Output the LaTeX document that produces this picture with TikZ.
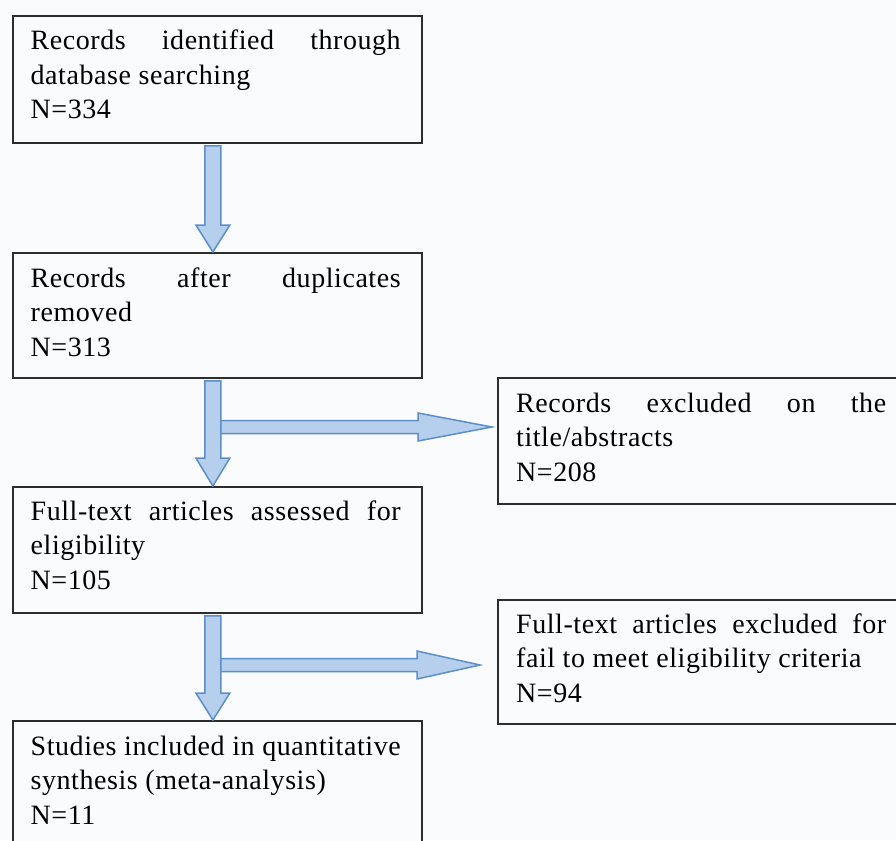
\documentclass[tikz,border=0pt]{standalone}
\usepackage{fontspec}
\setmainfont{Liberation Serif}[LetterSpace=2]
\usetikzlibrary{calc}
\definecolor{bgc}{RGB}{250,251,253}
\definecolor{arrfill}{RGB}{182,207,237}
\definecolor{arrline}{RGB}{92,142,202}
\definecolor{boxline}{RGB}{45,45,45}
\begin{document}
\begin{tikzpicture}[x=1pt,y=-1pt,
  boxnode/.style={draw=boxline,line width=1.8pt,fill=bgc,rectangle,inner sep=0pt,anchor=north west},
  txt/.style={anchor=base west,inner sep=0pt,text width=370pt,align=justify,
    font=\fontsize{28}{34.5}\selectfont},
  blockarrow/.style={fill=arrfill,draw=arrline,line width=1.5pt,line join=miter}]
\clip (0,0) rectangle (896,840);
\fill[bgc] (0,0) rectangle (896,840);
% boxes
\node[boxnode,minimum width=409pt,minimum height=127pt] (b1) at (12,15) {};
\node[boxnode,minimum width=409pt,minimum height=125pt] (b2) at (12,252) {};
\node[boxnode,minimum width=409pt,minimum height=126pt] (b3) at (12,486) {};
\node[boxnode,minimum width=409pt,minimum height=140pt] (b4) at (12,720) {};
\node[boxnode,minimum width=409pt,minimum height=126pt] (r1) at (497,377) {};
\node[boxnode,minimum width=409pt,minimum height=124pt] (r2) at (497,599) {};
% texts
\node[txt] (t1) at ($(b1.north west)+(18.5pt,-35pt)$) {Records identified through\linebreak database searching\\N=334};
\node[txt] (t2) at ($(b2.north west)+(18.5pt,-35pt)$) {Records after duplicates\linebreak removed\\N=313};
\node[txt] (t3) at ($(b3.north west)+(18.5pt,-34pt)$) {Full-text articles assessed for\linebreak eligibility\\N=105};
\node[txt] (t4) at ($(b4.north west)+(18.5pt,-35pt)$) {Studies included in quantitative\linebreak synthesis (meta-analysis)\\N=11};
\node[txt] (t5) at ($(r1.north west)+(19pt,-35pt)$) {Records excluded on the\linebreak title/abstracts\\N=208};
\node[txt] (t6) at ($(r2.north west)+(19pt,-34pt)$) {Full-text articles excluded for\linebreak fail to meet eligibility criteria\\N=94};
% horizontal arrows (drawn first)
\coordinate (h1) at (212,427);
\coordinate (e1) at (492,427);
\coordinate (h2) at (212,665);
\coordinate (e2) at (480,665);
\path[blockarrow] let \p1=(h1), \p2=(e1) in
  (\x1,\y1+6.5pt) -- (\x2-74pt,\y1+6.5pt) -- (\x2-74pt,\y1+14pt) -- (\x2,\y1)
  -- (\x2-74pt,\y1-14pt) -- (\x2-74pt,\y1-6.5pt) -- (\x1,\y1-6.5pt) -- cycle;
\path[blockarrow] let \p1=(h2), \p2=(e2) in
  (\x1,\y1+6.5pt) -- (\x2-63pt,\y1+6.5pt) -- (\x2-63pt,\y1+14pt) -- (\x2,\y1)
  -- (\x2-63pt,\y1-14pt) -- (\x2-63pt,\y1-6.5pt) -- (\x1,\y1-6.5pt) -- cycle;
% vertical arrows
\path[blockarrow] let \p1=($(b1.south)+(-4.5pt,-2pt)$), \p2=(b2.north) in
  (\x1-8pt,\y1) -- (\x1+8pt,\y1) -- (\x1+8pt,\y2+27pt) -- (\x1+17pt,\y2+27pt) -- (\x1,\y2)
  -- (\x1-17pt,\y2+27pt) -- (\x1-8pt,\y2+27pt) -- cycle;
\path[blockarrow] let \p1=($(b2.south)+(-4.5pt,-2pt)$), \p2=(b3.north) in
  (\x1-8pt,\y1) -- (\x1+8pt,\y1) -- (\x1+8pt,\y2+28pt) -- (\x1+17pt,\y2+28pt) -- (\x1,\y2)
  -- (\x1-17pt,\y2+28pt) -- (\x1-8pt,\y2+28pt) -- cycle;
\path[blockarrow] let \p1=($(b3.south)+(-4.5pt,-2pt)$), \p2=(b4.north) in
  (\x1-8pt,\y1) -- (\x1+8pt,\y1) -- (\x1+8pt,\y2+27pt) -- (\x1+17pt,\y2+27pt) -- (\x1,\y2)
  -- (\x1-17pt,\y2+27pt) -- (\x1-8pt,\y2+27pt) -- cycle;
\end{tikzpicture}
\end{document}
